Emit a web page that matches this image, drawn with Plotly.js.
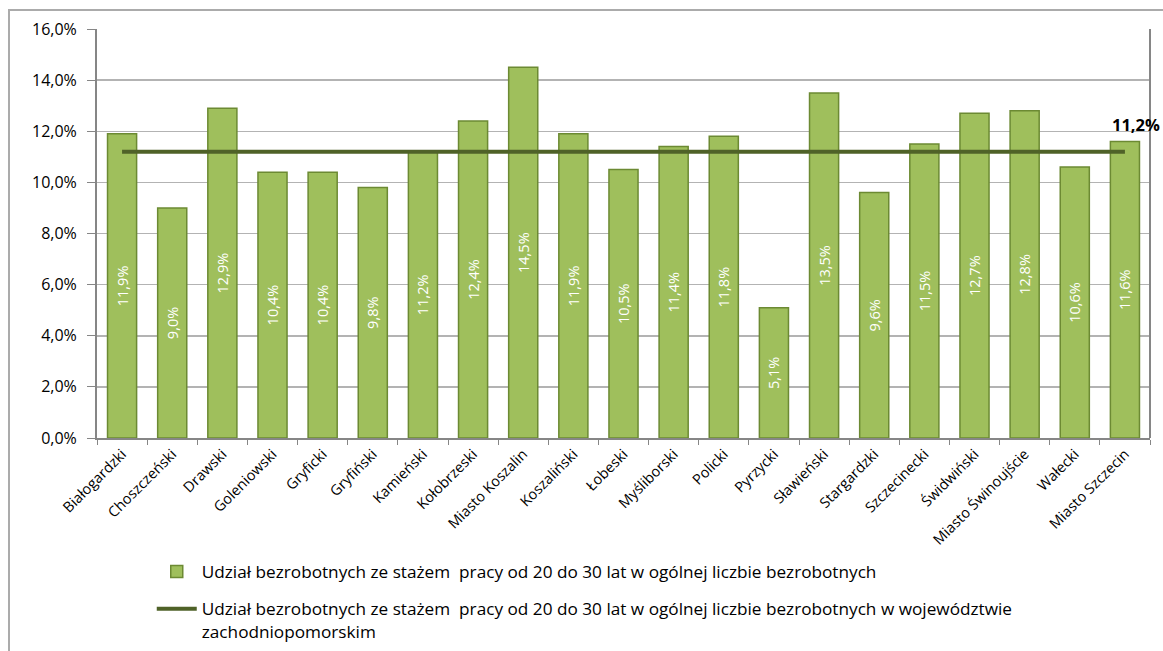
<!DOCTYPE html>
<html>
<head>
<meta charset="utf-8">
<script src="https://cdn.plot.ly/plotly-3.0.1.min.js"></script>
<style>
  html, body { margin: 0; padding: 0; background: #fff; overflow: hidden; width: 1163px; height: 651px; }
  #frame { position: absolute; left: 8px; top: 9px; width: 1155px; height: 642px; border-top: 2px solid #ababab; border-left: 2px solid #ababab; box-sizing: border-box; }
  #chart { position: absolute; left: 0; top: 0; width: 1163px; height: 651px; }
</style>
</head>
<body>
<div id="frame"></div>
<div id="chart"></div>
<script>
const categories = ["Białogardzki","Choszczeński","Drawski","Goleniowski","Gryficki","Gryfiński","Kamieński","Kołobrzeski","Miasto Koszalin","Koszaliński","Łobeski","Myśliborski","Policki","Pyrzycki","Sławieński","Stargardzki","Szczecinecki","Świdwiński","Miasto Świnoujście","Wałecki","Miasto Szczecin"];
const shareValues = [11.9, 9.0, 12.9, 10.4, 10.4, 9.8, 11.2, 12.4, 14.5, 11.9, 10.5, 11.4, 11.8, 5.1, 13.5, 9.6, 11.5, 12.7, 12.8, 10.6, 11.6];
const regionValues = [11.2, 11.2, 11.2, 11.2, 11.2, 11.2, 11.2, 11.2, 11.2, 11.2, 11.2, 11.2, 11.2, 11.2, 11.2, 11.2, 11.2, 11.2, 11.2, 11.2, 11.2];
const yTicks = [0, 2, 4, 6, 8, 10, 12, 14, 16];
const yTickLabels = ["0,0%", "2,0%", "4,0%", "6,0%", "8,0%", "10,0%", "12,0%", "14,0%", "16,0%"];
const barName = "Udział bezrobotnych ze stażem  pracy od 20 do 30 lat w ogólnej liczbie bezrobotnych";
const lineName = "Udział bezrobotnych ze stażem  pracy od 20 do 30 lat w ogólnej liczbie bezrobotnych w województwie<br>zachodniopomorskim";

const FONT = "'Open Sans', 'Noto Sans', sans-serif";

const traces = [
  {
    type: "bar",
    name: barName,
    legendgroup: "bars",
    x: categories,
    y: shareValues,
    marker: { color: "#9fbf5c", line: { color: "#6c8a33", width: 1.5 } },
    texttemplate: "%{y:.1f}%",
    textposition: "inside",
    insidetextanchor: "middle",
    textangle: -90,
    textfont: { color: "#ffffff", size: 14.5, family: FONT },
    hoverinfo: "skip"
  },
  {
    type: "scatter",
    mode: "lines",
    name: lineName,
    legendgroup: "region",
    x: categories,
    y: regionValues,
    line: { color: "#4f6228", width: 4 },
    hoverinfo: "skip"
  }
];

const layout = {
  width: 1163,
  height: 651,
  margin: { l: 97, r: 13, t: 29, b: 213, autoexpand: false },
  paper_bgcolor: "rgba(0,0,0,0)",
  plot_bgcolor: "#ffffff",
  separators: ", ",
  font: { family: FONT, size: 14, color: "#000000" },
  bargap: 0.42,
  showlegend: true,
  legend: {
    x: 0.052, y: -0.283, xanchor: "left", yanchor: "top",
    font: { family: FONT, size: 17.2, color: "#000" },
    tracegroupgap: 12,
    valign: "top",
    itemwidth: 40,
    bgcolor: "rgba(0,0,0,0)"
  },
  xaxis: {
    type: "category",
    range: [-0.5, categories.length - 0.5],
    tickangle: -45,
    showline: true, linecolor: "#868686", linewidth: 2,
    ticks: "outside", tickson: "boundaries", ticklen: 5, tickcolor: "#868686",
    showgrid: false,
    tickfont: { size: 14.5, family: FONT, color: "#000" }
  },
  yaxis: {
    range: [0, 16],
    tickvals: yTicks,
    ticktext: yTickLabels,
    showline: true, linecolor: "#868686", linewidth: 2,
    ticks: "outside", ticklen: 8, tickcolor: "#868686",
    ticklabelstandoff: 7,
    showgrid: true, gridcolor: "#b3b3b3", gridwidth: 1.5,
    zeroline: false,
    tickfont: { size: 16, family: FONT, color: "#000" }
  },
  shapes: [
    { type: "line", xref: "paper", yref: "paper", x0: 1, x1: 1, y0: 0, y1: 1, line: { color: "#868686", width: 2 } }
  ],
  annotations: [
    {
      x: categories[categories.length - 1],
      y: regionValues[regionValues.length - 1],
      text: "<b>" + regionValues[regionValues.length - 1].toFixed(1).replace(".", ",") + "%</b>",
      showarrow: false,
      xanchor: "center", yanchor: "bottom",
      xshift: 11, yshift: 14,
      font: { family: FONT, size: 16.5, color: "#000" }
    }
  ]
};

Plotly.newPlot("chart", traces, layout, { displayModeBar: false, staticPlot: true });
</script>
</body>
</html>
